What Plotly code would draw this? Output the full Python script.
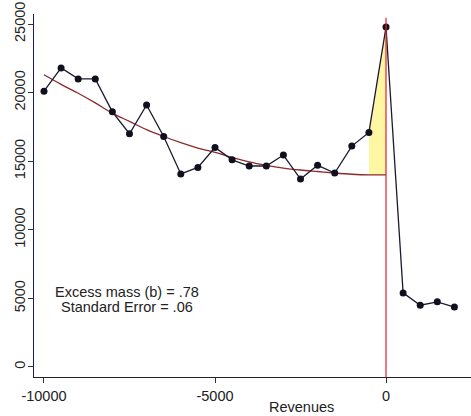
import plotly.graph_objects as go

# ---- data ----
bins = [-10000, -9500, -9000, -8500, -8000, -7500, -7000, -6500, -6000, -5500,
        -5000, -4500, -4000, -3500, -3000, -2500, -2000, -1500, -1000, -500,
        0, 500, 1000, 1500, 2000]
counts = [20100, 21800, 21000, 21000, 18600, 17000, 19100, 16800, 14070, 14550,
          16000, 15100, 14650, 14650, 15450, 13700, 14700, 14140, 16100, 17100,
          24780, 5400, 4500, 4750, 4370]
cf_bins = bins[:21]
counterfactual = [21300, 20600, 19950, 19250, 18500, 17900, 17300, 16800, 16350, 15950,
                  15650, 15280, 14950, 14700, 14500, 14360, 14250, 14140, 14050, 14000,
                  14000]
excess_bins = [-500, 0]
x_ticks = [-10000, -5000, 0]
y_ticks = [0, 5000, 10000, 15000, 20000, 25000]
annot_lines = ["Excess mass (b) = .78", "Standard Error = .06"]
x_title = "Revenues"

FONT = "Liberation Sans, Arial, sans-serif"
XR = [-10292, 2485]
YR = [-730, 25730]

fig = go.Figure()

# excess mass fill
i0 = bins.index(excess_bins[0]); i1 = bins.index(excess_bins[1])
j0 = cf_bins.index(excess_bins[0]); j1 = cf_bins.index(excess_bins[1])
fx = bins[i0:i1 + 1] + cf_bins[j0:j1 + 1][::-1]
fy = counts[i0:i1 + 1] + counterfactual[j0:j1 + 1][::-1]
fig.add_trace(go.Scatter(x=fx, y=fy, fill="toself", fillcolor="#fdf6a3",
                         line=dict(width=0), mode="lines", hoverinfo="skip",
                         showlegend=False))

# counterfactual curve
fig.add_trace(go.Scatter(x=cf_bins, y=counterfactual, mode="lines",
                         line=dict(color="#8a2a2a", width=1.3, shape="spline"),
                         showlegend=False))

# red vertical line at threshold
fig.add_shape(type="line", x0=0, x1=0, y0=YR[0], y1=25450, xref="x", yref="y",
              line=dict(color="#e0202e", width=1.2))

# observed distribution
fig.add_trace(go.Scatter(x=bins, y=counts, mode="lines+markers",
                         line=dict(color="#1a1a30", width=1.3),
                         marker=dict(color="#10101e", size=7),
                         showlegend=False))

# annotation text
for k, (txt, yv) in enumerate(zip(annot_lines, [5466, 4373])):
    fig.add_annotation(x=-7573, y=yv, xref="x", yref="y", text=txt,
                       showarrow=False, xanchor="center", yanchor="middle",
                       font=dict(family=FONT, size=14.5, color="#222"))

fig.add_annotation(x=-2485, y=-0.0826, xref="x", yref="paper", text=x_title,
                   showarrow=False, xanchor="center", yanchor="middle",
                   font=dict(family=FONT, size=14.5, color="#222"))

fig.update_layout(
    width=471, height=416,
    margin=dict(l=34, r=0, t=14, b=39),
    paper_bgcolor="white", plot_bgcolor="white",
    font=dict(family=FONT, size=14.5, color="#222"),
    xaxis=dict(range=XR, tickvals=x_ticks, ticktext=[str(v) for v in x_ticks],
               showgrid=False, zeroline=False, showline=True, linecolor="#222",
               linewidth=1.2, ticks="outside", ticklen=5, tickcolor="#333",
               tickfont=dict(family=FONT, size=14.5, color="#222")),
    yaxis=dict(range=YR, tickvals=y_ticks, ticktext=[str(v) for v in y_ticks],
               showgrid=False, zeroline=False, showline=True, linecolor="#1c1c5c",
               linewidth=1.2, ticks="outside", ticklen=5, tickcolor="#333",
               tickangle=-90, ticklabelstandoff=-3,
               tickfont=dict(family=FONT, size=14.5, color="#222")),
)

fig.write_html("out.html")
